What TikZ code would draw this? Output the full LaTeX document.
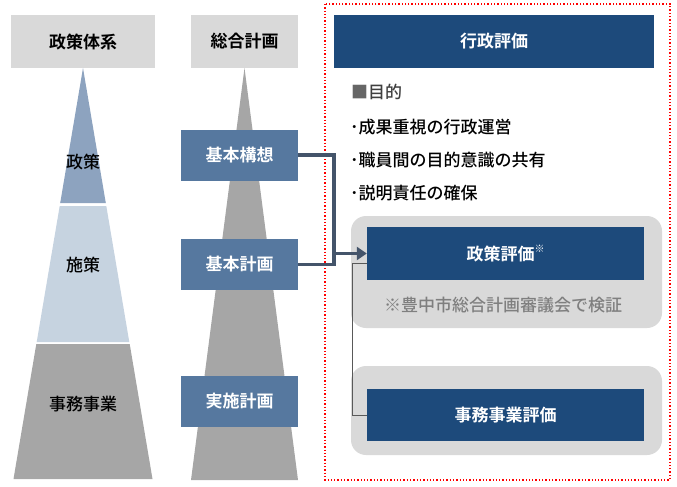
\documentclass[tikz,border=0pt]{standalone}
\usepackage{fontspec}
\setmainfont{Noto Sans CJK JP}[BoldFont={Noto Sans CJK JP Bold}]
\newfontfamily\medfont{Noto Sans CJK JP Medium}
\usepackage{tikz}
\usetikzlibrary{positioning, arrows.meta, calc}
\definecolor{headgray}{HTML}{D9D9D9}
\definecolor{pyrtop}{HTML}{8DA3BF}
\definecolor{pyrmid}{HTML}{C6D3E0}
\definecolor{pyrlow}{HTML}{A6A6A6}
\definecolor{planblue}{HTML}{56789F}
\definecolor{evalblue}{HTML}{1D4A7B}
\definecolor{linkgray}{HTML}{44546A}
\definecolor{notegray}{HTML}{7F7F7F}
\tikzset{
	headnode/.style={
			rectangle,
			fill=headgray,
			inner sep=0pt,
			minimum height=53pt,
			font=\fontsize{17}{20}\selectfont\bfseries
		},
	plannode/.style={
			rectangle,
			fill=planblue,
			text=white,
			inner sep=0pt,
			minimum width=117pt,
			minimum height=51pt,
			font=\fontsize{17}{20}\selectfont\bfseries
		},
	evalnode/.style={
			rectangle,
			fill=evalblue,
			text=white,
			inner sep=0pt,
			minimum width=277pt,
			minimum height=53pt,
			font=\fontsize{17}{20}\selectfont\bfseries
		},
	pyrlabel/.style={
			inner sep=0pt,
			font=\fontsize{17}{20}\selectfont\medfont
		},
	textline/.style={
			anchor=west,
			inner sep=0pt,
			font=\fontsize{17}{20}\selectfont\medfont
		},
	groupbox/.style={
			fill=headgray,
			draw=none,
			rounded corners=15pt
		},
	link/.style={
			draw=linkgray,
			line width=3.6pt
		},
	thinlink/.style={
			draw=black!65,
			line width=0.8pt
		}
}

\begin{document}
\begin{tikzpicture}[x=1pt, y=-1pt]
\useasboundingbox (0,0) rectangle (677,487);

% left column
\node[headnode, minimum width=144pt] (hTaikei) at (83,41.5) {政策体系};
\fill[pyrtop] (83,68) -- (105.8,203) -- (60.2,203) -- cycle;
\fill[pyrmid] (59.7,206) -- (106.3,206) -- (129.3,342) -- (36.7,342) -- cycle;
\fill[pyrlow] (36.3,344) -- (129.7,344) -- (152.5,479) -- (13.5,479) -- cycle;
\node[pyrlabel] (lSeisaku) at (83,162) {政策};
\node[pyrlabel] (lShisaku) at (83,265) {施策};
\node[pyrlabel] (lJimu) at (83,404) {事務事業};

% middle column
\node[headnode, minimum width=107pt] (hSogo) at (244.5,41.5) {総合計画};
\fill[pyrlow] (244.5,68) -- (298,480) -- (191,480) -- cycle;
\node[plannode] (bKoso) at (239.5,155) {基本構想};
\node[plannode] (bKeikaku) at (239.5,264.5) {基本計画};
\node[plannode] (bJisshi) at (239.5,401.5) {実施計画};

% right column
\draw[red, dotted, line width=1.3pt] (325,4) rectangle (670,480);
\node[headnode, fill=evalblue, text=white, minimum width=320pt] (hGyosei) at (494,41.5) {行政評価};
\node[textline, text=black!75] (tMokuteki) at (351,92) {{\color{black!60}■}目的};
\node[textline] (tItem1) at (350,127) {･成果重視の行政運営};
\node[textline] (tItem2) at (350,160) {･職員間の目的意識の共有};
\node[textline] (tItem3) at (350,193) {･説明責任の確保};

\fill[groupbox] (351,216) rectangle (662,328);
\fill[groupbox] (351,366) rectangle (662,455);
\node[evalnode] (bSeisaku) at (505.5,253.5) {政策評価\raisebox{0.45em}{\fontsize{10}{10}\selectfont ※}};
\node[textline, anchor=center, text=notegray] (tNote) at (503,305) {※豊中市総合計画審議会で検証};
\node[evalnode, minimum height=52pt] (bJimu) at (505.5,415) {事務事業評価};

% connectors
\coordinate (jTop) at (334,155);
\coordinate (jArr) at (334,253.5);
\draw[link] (bKoso.east) -- (jTop) |- (bKeikaku.east);
\draw[link, -{Triangle[length=10pt, width=13pt]}] (jArr) -- (bSeisaku.west);
\draw[thinlink] ([yshift=-9.5pt]bSeisaku.west) -- ++(-14,0) |- (bJimu.west);

\end{tikzpicture}
\end{document}
